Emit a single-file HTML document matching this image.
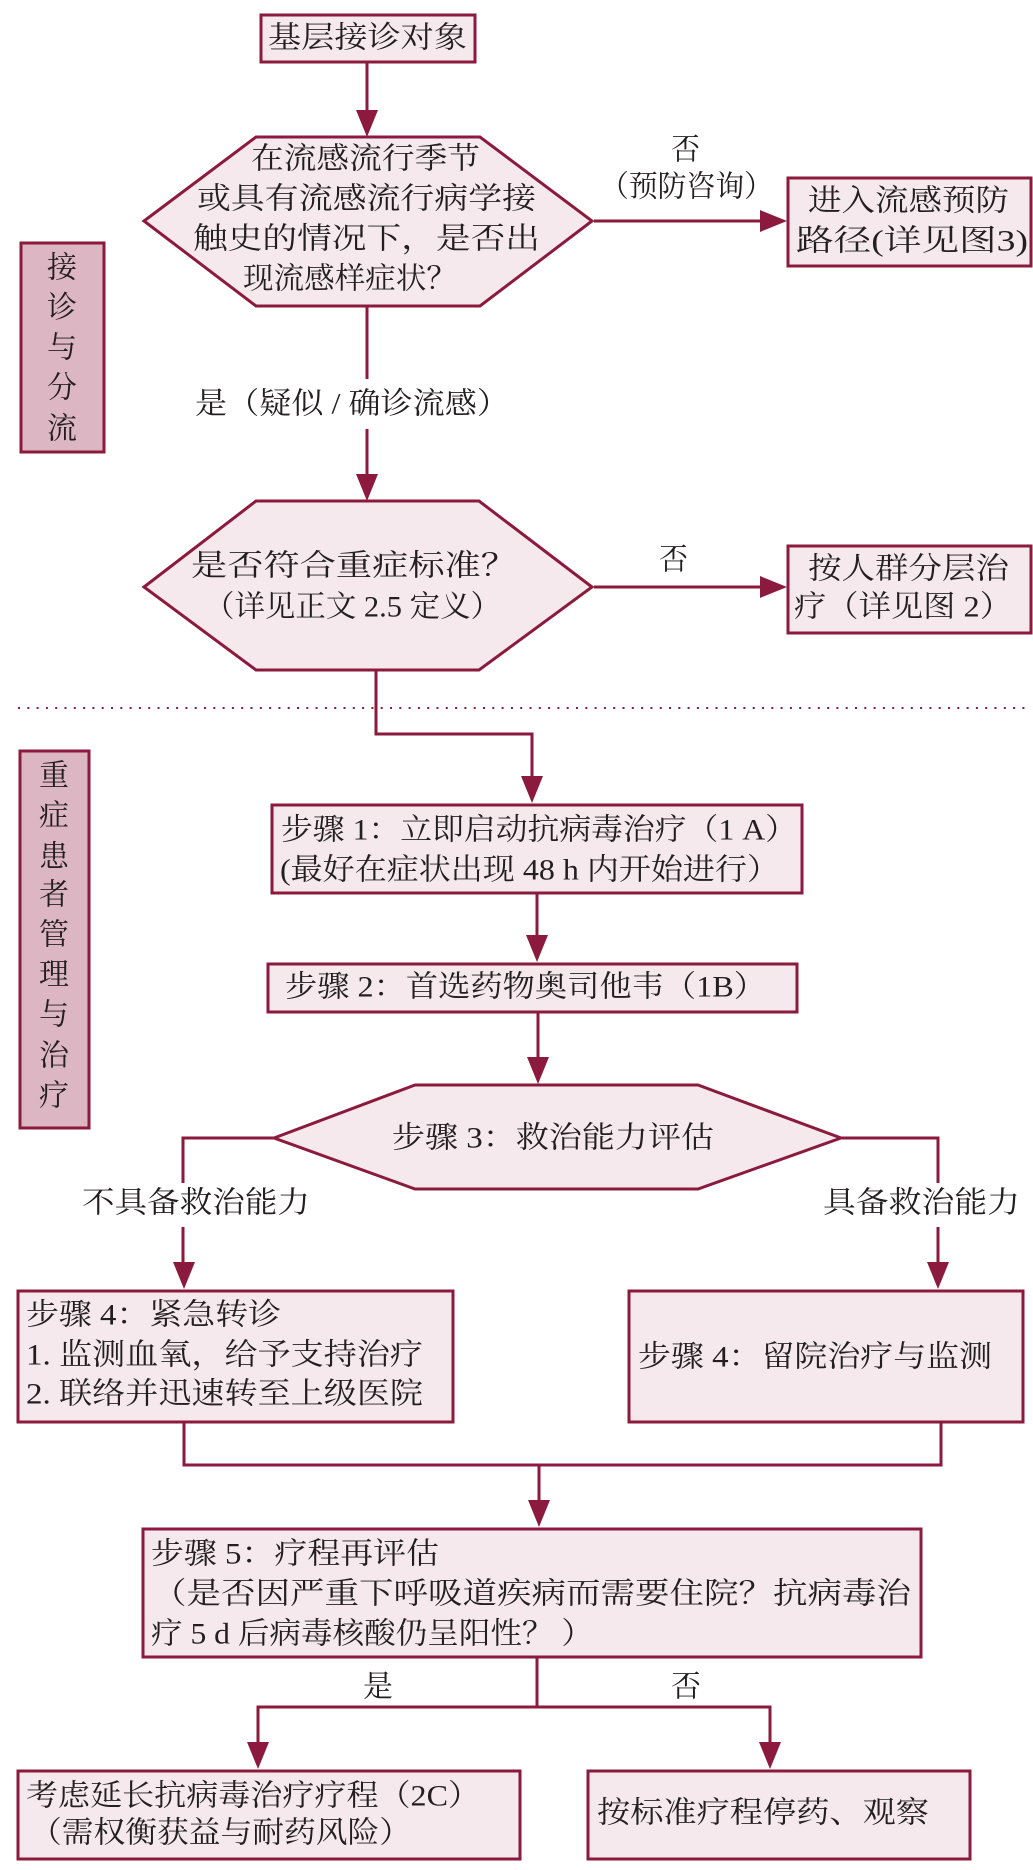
<!DOCTYPE html>
<html><head><meta charset="utf-8"><style>
html,body{margin:0;padding:0;background:#fff;}
svg{display:block;}
text{font-family:"Liberation Serif","Noto Serif CJK SC",serif;fill:#231f20;dominant-baseline:central;}
</style></head><body>
<svg width="1033" height="1870" viewBox="0 0 1033 1870" xmlns="http://www.w3.org/2000/svg">
<defs>
<marker id="ah" viewBox="0 0 10 10" refX="10" refY="5" markerWidth="7" markerHeight="7" markerUnits="userSpaceOnUse" orient="auto"></marker>
</defs>
<g fill="none" stroke="#8b1a3e" stroke-width="3">
<!-- box1 -->
<rect x="261" y="15" width="214" height="47" fill="#f5e9ed"/>
<line x1="367" y1="62" x2="367" y2="112"/>
<!-- hex1 -->
<polygon points="144,221 256,137 480,137 592,221 480,306 256,306" fill="#f5e9ed"/>
<line x1="594" y1="221" x2="762" y2="221"/>
<rect x="788" y="178" width="243" height="88" fill="#f5e9ed"/>
<line x1="367" y1="306" x2="367" y2="379"/>
<line x1="367" y1="429" x2="367" y2="476"/>
<!-- side box1 -->
<rect x="21" y="243" width="83" height="209" fill="#ddb6c3"/>
<!-- hex2 -->
<polygon points="144,587 256,501 479,501 592,587 479,670 256,670" fill="#f5e9ed"/>
<line x1="594" y1="587" x2="762" y2="587"/>
<rect x="788" y="546" width="243" height="87" fill="#f5e9ed"/>
<!-- dotted -->
<line x1="18" y1="708" x2="1030" y2="708" stroke-width="2" stroke-dasharray="2,7.3"/>
<polyline points="376,670 376,734 532,734 532,778"/>
<!-- side box2 -->
<rect x="20" y="751" width="69" height="377" fill="#ddb6c3"/>
<!-- step1 -->
<rect x="272" y="805" width="530" height="88" fill="#f5e9ed"/>
<line x1="537" y1="893" x2="537" y2="937"/>
<rect x="268" y="964" width="529" height="48" fill="#f5e9ed"/>
<line x1="538" y1="1012" x2="538" y2="1059"/>
<!-- hex3 -->
<polygon points="274,1138 415,1085 698,1085 841,1138 698,1189 415,1189" fill="#f5e9ed"/>
<polyline points="274,1138 183,1138 183,1183"/>
<line x1="183" y1="1227" x2="183" y2="1264"/>
<polyline points="841,1138 938,1138 938,1183"/>
<line x1="938" y1="1227" x2="938" y2="1264"/>
<!-- step4 -->
<rect x="18" y="1291" width="435" height="131" fill="#f5e9ed"/>
<rect x="629" y="1291" width="394" height="131" fill="#f5e9ed"/>
<polyline points="184,1422 184,1465 941,1465 941,1422"/>
<line x1="539" y1="1465" x2="539" y2="1502"/>
<!-- step5 -->
<rect x="143" y="1529" width="778" height="128" fill="#f5e9ed"/>
<line x1="537" y1="1657" x2="537" y2="1707"/>
<polyline points="258,1744 258,1707 770,1707 770,1744"/>
<rect x="18" y="1771" width="502" height="88" fill="#f5e9ed"/>
<rect x="588" y="1771" width="382" height="88" fill="#f5e9ed"/>
</g>
<g fill="#8b1a3e">
<polygon points="356,110 378,110 367,137"/>
<polygon points="760,210 760,232 787,221"/>
<polygon points="356,474 378,474 367,501"/>
<polygon points="760,576 760,598 787,587"/>
<polygon points="521,776 543,776 532,803"/>
<polygon points="526,935 548,935 537,962"/>
<polygon points="527,1057 549,1057 538,1084"/>
<polygon points="173,1262 195,1262 184,1289"/>
<polygon points="927,1262 949,1262 938,1289"/>
<polygon points="528,1500 550,1500 539,1527"/>
<polygon points="247,1742 269,1742 258,1769"/>
<polygon points="759,1742 781,1742 770,1769"/>
</g>
<g font-size="30">
<text x="268" y="38" textLength="199" lengthAdjust="spacingAndGlyphs">基层接诊对象</text>
<text x="251" y="159" textLength="229" lengthAdjust="spacingAndGlyphs">在流感流行季节</text>
<text x="197" y="199" textLength="339" lengthAdjust="spacingAndGlyphs">或具有流感流行病学接</text>
<text x="193" y="239" textLength="347" lengthAdjust="spacingAndGlyphs">触史的情况下，是否出</text>
<text x="243" y="279" textLength="214" lengthAdjust="spacingAndGlyphs">现流感样症状？</text>
<text x="671" y="150" textLength="29" lengthAdjust="spacingAndGlyphs">否</text>
<text x="600" y="187" textLength="173" lengthAdjust="spacingAndGlyphs">（预防咨询）</text>
<text x="808" y="201" textLength="201" lengthAdjust="spacingAndGlyphs">进入流感预防</text>
<text x="796" y="241" textLength="232" lengthAdjust="spacingAndGlyphs">路径(详见图3)</text>
<text x="195" y="404" textLength="314" lengthAdjust="spacingAndGlyphs">是（疑似 / 确诊流感）</text>
<g text-anchor="middle">
<text x="62" y="268">接</text><text x="62" y="308">诊</text><text x="62" y="348">与</text><text x="62" y="388">分</text><text x="62" y="429">流</text>
<text x="54" y="776">重</text><text x="54" y="816">症</text><text x="54" y="857">患</text><text x="54" y="895">者</text><text x="54" y="935">管</text><text x="54" y="975">理</text><text x="54" y="1015">与</text><text x="54" y="1056">治</text><text x="54" y="1096">疗</text>
</g>
<text x="191" y="566" textLength="326" lengthAdjust="spacingAndGlyphs">是否符合重症标准？</text>
<text x="204" y="607" textLength="297" lengthAdjust="spacingAndGlyphs">（详见正文 2.5 定义）</text>
<text x="659" y="560" textLength="29" lengthAdjust="spacingAndGlyphs">否</text>
<text x="808" y="569" textLength="201" lengthAdjust="spacingAndGlyphs">按人群分层治</text>
<text x="794" y="607" textLength="218" lengthAdjust="spacingAndGlyphs">疗（详见图 2）</text>
<text x="281" y="830" textLength="516" lengthAdjust="spacingAndGlyphs">步骤 1：立即启动抗病毒治疗（1 A）</text>
<text x="280" y="870" textLength="499" lengthAdjust="spacingAndGlyphs">(最好在症状出现 48 h 内开始进行）</text>
<text x="285" y="987" textLength="481" lengthAdjust="spacingAndGlyphs">步骤 2：首选药物奥司他韦（1B）</text>
<text x="392" y="1138" textLength="322" lengthAdjust="spacingAndGlyphs">步骤 3：救治能力评估</text>
<text x="82" y="1203" textLength="228" lengthAdjust="spacingAndGlyphs">不具备救治能力</text>
<text x="823" y="1203" textLength="197" lengthAdjust="spacingAndGlyphs">具备救治能力</text>
<text x="26" y="1315" textLength="255" lengthAdjust="spacingAndGlyphs">步骤 4：紧急转诊</text>
<text x="26" y="1355" textLength="397" lengthAdjust="spacingAndGlyphs">1. 监测血氧，给予支持治疗</text>
<text x="26" y="1394" textLength="397" lengthAdjust="spacingAndGlyphs">2. 联络并迅速转至上级医院</text>
<text x="638" y="1357" textLength="354" lengthAdjust="spacingAndGlyphs">步骤 4：留院治疗与监测</text>
<text x="151" y="1554" textLength="288" lengthAdjust="spacingAndGlyphs">步骤 5：疗程再评估</text>
<text x="152" y="1594" textLength="759" lengthAdjust="spacingAndGlyphs">（是否因严重下呼吸道疾病而需要住院？抗病毒治</text>
<text x="151" y="1634" textLength="442" lengthAdjust="spacingAndGlyphs">疗 5 d 后病毒核酸仍呈阳性？ ）</text>
<text x="363" y="1687" textLength="30" lengthAdjust="spacingAndGlyphs">是</text>
<text x="671" y="1687" textLength="30" lengthAdjust="spacingAndGlyphs">否</text>
<text x="26" y="1796" textLength="454" lengthAdjust="spacingAndGlyphs">考虑延长抗病毒治疗疗程（2C）</text>
<text x="30" y="1833" textLength="381" lengthAdjust="spacingAndGlyphs">（需权衡获益与耐药风险）</text>
<text x="597" y="1813" textLength="332" lengthAdjust="spacingAndGlyphs">按标准疗程停药、观察</text>
</g>
</svg>
</body></html>
